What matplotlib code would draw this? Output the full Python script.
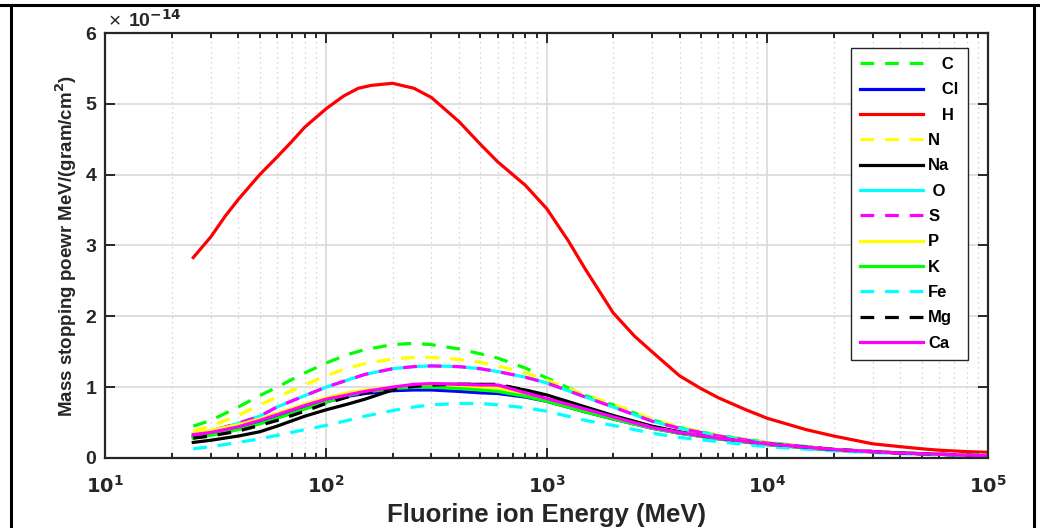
import matplotlib
matplotlib.use('Agg')
import matplotlib.pyplot as plt
import numpy as np
from matplotlib.lines import Line2D

plt.rcParams['font.family'] = ['Liberation Sans', 'DejaVu Sans']
plt.rcParams['font.weight'] = 'bold'
plt.rcParams['mathtext.default'] = 'bf'

# Energie-Gitter (MeV) fuer die leichten/schweren Elemente
E = np.array([25, 30, 40, 50, 60, 80, 100, 125, 150, 200, 250, 300, 400, 500,
              600, 800, 1000, 1500, 2000, 3000, 4000, 6000, 10000, 20000,
              40000, 100000])

# Wasserstoff eigenes Gitter
E_H = np.array([25, 30, 35, 40, 50, 60, 70, 80, 100, 120, 140, 160, 200, 250,
                300, 400, 500, 600, 800, 1000, 1250, 1500, 2000, 2500, 3000,
                4000, 5000, 6000, 8000, 10000, 15000, 20000, 30000, 40000,
                50000, 60000, 80000, 100000])
H = [2.83, 3.12, 3.42, 3.65, 4.00, 4.25, 4.47, 4.67, 4.93, 5.11, 5.22, 5.26,
     5.29, 5.22, 5.09, 4.75, 4.43, 4.18, 3.85, 3.52, 3.07, 2.66, 2.05, 1.72,
     1.50, 1.16, 0.98, 0.85, 0.68, 0.56, 0.40, 0.31, 0.20, 0.16, 0.13, 0.11,
     0.09, 0.08]

# Massenbremsvermoegen in Einheiten von 1e-14 MeV/(g/cm^2)
C = [0.45, 0.53, 0.72, 0.88, 1.00, 1.20, 1.34, 1.46, 1.53, 1.60, 1.62, 1.60,
     1.54, 1.47, 1.41, 1.27, 1.13, 0.88, 0.75, 0.54, 0.43, 0.32, 0.22, 0.12,
     0.07, 0.035]
N = [0.38, 0.45, 0.60, 0.75, 0.86, 1.03, 1.16, 1.27, 1.33, 1.40, 1.42, 1.42,
     1.39, 1.35, 1.30, 1.20, 1.10, 0.89, 0.76, 0.55, 0.44, 0.32, 0.22, 0.12,
     0.07, 0.035]
O = [0.33, 0.38, 0.49, 0.59, 0.72, 0.88, 1.00, 1.10, 1.18, 1.26, 1.29, 1.30,
     1.29, 1.26, 1.22, 1.14, 1.06, 0.86, 0.72, 0.52, 0.42, 0.31, 0.21, 0.12,
     0.07, 0.035]
S = [0.33, 0.38, 0.49, 0.59, 0.72, 0.88, 1.00, 1.10, 1.18, 1.26, 1.29, 1.30,
     1.29, 1.26, 1.22, 1.14, 1.06, 0.86, 0.72, 0.52, 0.42, 0.31, 0.21, 0.12,
     0.07, 0.035]
Ca = [0.33, 0.36, 0.44, 0.53, 0.61, 0.74, 0.83, 0.89, 0.94, 1.00, 1.04, 1.05,
      1.04, 1.03, 1.03, 0.92, 0.84, 0.69, 0.58, 0.43, 0.36, 0.28, 0.20, 0.12,
      0.07, 0.03]
P = [0.35, 0.39, 0.47, 0.55, 0.63, 0.76, 0.85, 0.92, 0.96, 1.00, 1.02, 1.02,
     1.01, 1.00, 0.99, 0.90, 0.82, 0.67, 0.57, 0.43, 0.36, 0.28, 0.20, 0.12,
     0.07, 0.03]
Cl = [0.30, 0.34, 0.42, 0.50, 0.57, 0.70, 0.79, 0.87, 0.91, 0.95, 0.96, 0.96,
      0.94, 0.92, 0.91, 0.86, 0.80, 0.65, 0.55, 0.42, 0.35, 0.27, 0.19, 0.11,
      0.07, 0.03]
K = [0.28, 0.32, 0.40, 0.48, 0.56, 0.69, 0.79, 0.88, 0.93, 0.98, 1.00, 1.00,
     0.98, 0.96, 0.94, 0.87, 0.80, 0.65, 0.55, 0.42, 0.35, 0.27, 0.19, 0.11,
     0.07, 0.03]
Mg = [0.28, 0.31, 0.38, 0.46, 0.53, 0.66, 0.77, 0.86, 0.92, 0.98, 1.01, 1.03,
      1.04, 1.04, 1.04, 0.96, 0.86, 0.70, 0.59, 0.44, 0.36, 0.28, 0.20, 0.12,
      0.07, 0.03]
Na = [0.22, 0.25, 0.31, 0.37, 0.45, 0.59, 0.68, 0.76, 0.83, 0.96, 1.03, 1.04,
      1.04, 1.04, 1.02, 0.96, 0.89, 0.72, 0.60, 0.45, 0.37, 0.28, 0.20, 0.12,
      0.07, 0.03]
Fe = [0.13, 0.16, 0.22, 0.27, 0.32, 0.40, 0.46, 0.53, 0.59, 0.67, 0.72, 0.75,
      0.77, 0.77, 0.75, 0.71, 0.66, 0.53, 0.46, 0.35, 0.29, 0.23, 0.16, 0.10,
      0.06, 0.025]

fig = plt.figure(figsize=(10.4, 5.28), dpi=100)
ax = fig.add_axes([0.1014, 0.1326, 0.8486, 0.8049])

lw = 2.3
dash = (4.3, 3.4)
ax.plot(E, C, color='#00ff00', lw=lw, dashes=dash, label='   C')
ax.plot(E, Cl, color='#0000ff', lw=lw, label='   Cl')
ax.plot(E_H, H, color='#ff0000', lw=lw, label='   H')
ax.plot(E, N, color='#ffff00', lw=lw, dashes=dash, label='N')
ax.plot(E, Na, color='black', lw=lw, label='Na')
ax.plot(E, O, color='#00ffff', lw=lw, label=' O')
ax.plot(E, S, color='#ff00ff', lw=lw, dashes=dash, label='S')
ax.plot(E, P, color='#ffff00', lw=lw, label='P')
ax.plot(E, K, color='#00ff00', lw=lw, label='K')
ax.plot(E, Fe, color='#00ffff', lw=lw, dashes=dash, label='Fe')
ax.plot(E, Mg, color='black', lw=lw, dashes=dash, label='Mg')
ax.plot(E, Ca, color='#ff00ff', lw=lw, label='Ca')

ax.set_xscale('log')
ax.set_xlim(10, 1e5)
ax.set_ylim(0, 6)
ax.set_yticks([0, 1, 2, 3, 4, 5, 6])
ax.set_xticks([1e1, 1e2, 1e3, 1e4, 1e5])
ax.set_xticklabels(['$10^{1}$', '$10^{2}$', '$10^{3}$', '$10^{4}$', '$10^{5}$'])

ax.grid(True, which='major', color='#d9d9d9', lw=1.2, ls='-')
ax.grid(True, which='minor', axis='x', color='#c8c8c8', lw=0.9, ls=(0, (1, 3)))
ax.set_axisbelow(True)

for sp in ax.spines.values():
    sp.set_linewidth(1.6)
    sp.set_color('#262626')
ax.tick_params(which='both', direction='in', top=True, right=True,
               colors='#262626', labelsize=14, width=1.4)
ax.tick_params(which='major', length=7)
ax.tick_params(which='minor', length=3.5)
ax.tick_params(axis='y', pad=6.5)
ax.tick_params(axis='x', pad=12)

ax.set_xlabel('Fluorine ion Energy (MeV)', fontsize=18.5, fontweight='bold',
              color='#262626', labelpad=5)
ax.set_ylabel('Mass stopping poewr MeV/(gram/cm$^2$)', fontsize=13.5,
              fontweight='bold', color='#262626', labelpad=5)

# Exponent oben links
ax.text(0.003, 1.014, '\u00d7', transform=ax.transAxes, fontsize=15,
        fontweight='normal', color='#262626', ha='left', va='baseline')
ax.text(0.025, 1.014, '10$^{-14}$', transform=ax.transAxes, fontsize=14,
        color='#262626', ha='left', va='baseline')

leg = ax.legend(loc='upper right', bbox_to_anchor=(0.977, 0.965),
                fontsize=12, handlelength=3.8, labelspacing=0.62,
                borderaxespad=0.0, fancybox=False, framealpha=1,
                edgecolor='#262626', borderpad=0.55, handletextpad=0.3)
leg.get_frame().set_linewidth(1.0)
for t in leg.get_texts():
    t.set_fontweight('bold')

# Rahmenlinien
fig.add_artist(Line2D([0, 1], [0.990, 0.990], color='black', lw=2.2))
fig.add_artist(Line2D([0.0106, 0.0106], [0, 0.990], color='black', lw=2.2))
fig.add_artist(Line2D([0.9942, 0.9942], [0, 0.990], color='black', lw=2.2))

fig.savefig('out.png', dpi=100)
